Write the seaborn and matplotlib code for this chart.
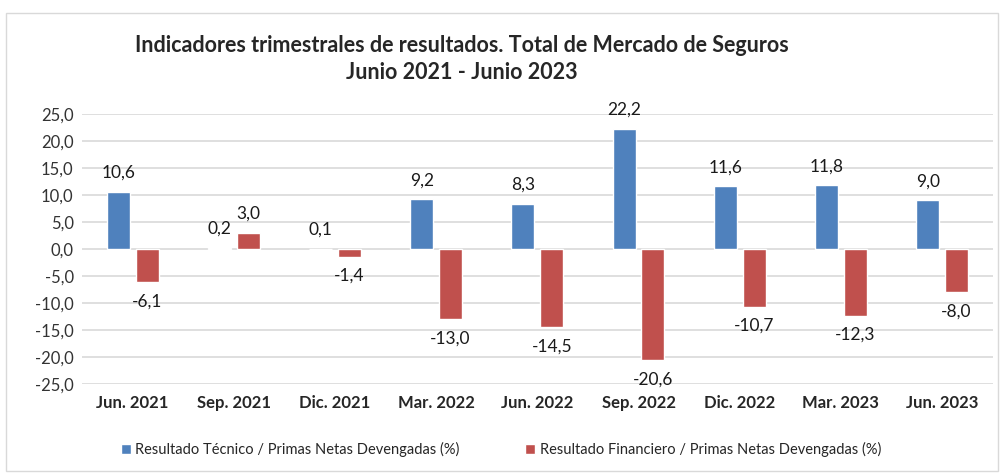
import pandas as pd
import matplotlib.pyplot as plt
import seaborn as sns
from matplotlib.patches import Rectangle

# datos
trimestres = ['Jun. 2021', 'Sep. 2021', 'Dic. 2021', 'Mar. 2022', 'Jun. 2022',
              'Sep. 2022', 'Dic. 2022', 'Mar. 2023', 'Jun. 2023']
tecnico = [10.6, 0.2, 0.1, 9.2, 8.3, 22.2, 11.6, 11.8, 9.0]
financiero = [-6.1, 3.0, -1.4, -13.0, -14.5, -20.6, -10.7, -12.3, -8.0]
serie_tec = 'Resultado Técnico / Primas Netas Devengadas (%)'
serie_fin = 'Resultado Financiero / Primas Netas Devengadas (%)'
y_ticks = [25, 20, 15, 10, 5, 0, -5, -10, -15, -20, -25]

df = pd.DataFrame({
    'trimestre': trimestres * 2,
    'valor': tecnico + financiero,
    'serie': [serie_tec] * len(trimestres) + [serie_fin] * len(trimestres),
})

sns.set_style('white')
plt.rcParams['font.family'] = ['Lato', 'DejaVu Sans']

fig = plt.figure(figsize=(10.04, 4.76), dpi=100)
ax = fig.add_axes([0.0817, 0.193, 0.907, 0.5675])

sns.barplot(data=df, x='trimestre', y='valor', hue='serie', order=trimestres,
            palette=['#4F81BD', '#C0504D'], saturation=1, width=0.57, gap=0.2,
            ax=ax, legend=True, zorder=3)

# etiquetas de datos
for cont in ax.containers:
    for bar in cont:
        v = bar.get_height()
        x = bar.get_x() + bar.get_width() / 2
        if v >= 0:
            ax.annotate(f'{v:.1f}'.replace('.', ','), (x, v), xytext=(0, 8),
                        textcoords='offset points', ha='center', va='bottom',
                        fontsize=12.5, color='#1a1a1a')
        else:
            ax.annotate(f'{v:.1f}'.replace('.', ','), (x, v), xytext=(0, -8),
                        textcoords='offset points', ha='center', va='top',
                        fontsize=12.5, color='#1a1a1a')

ax.set_ylim(-25, 25)
ax.set_yticks(y_ticks)
ax.set_yticklabels([f'{t:.1f}'.replace('.', ',') for t in y_ticks], fontsize=12, color='#333333')
ax.set_xlim(-0.5, len(trimestres) - 0.5)
ax.tick_params(axis='x', length=0, pad=8)
ax.tick_params(axis='y', length=0, pad=6)
for lab in ax.get_xticklabels():
    lab.set_fontweight('bold')
    lab.set_fontsize(12)
ax.set_xlabel('')
ax.set_ylabel('')
ax.grid(axis='y', color='#D9D9D9', linewidth=1.2, zorder=0)
sns.despine(ax=ax, left=True, bottom=True)

ax.legend(loc='lower center', bbox_to_anchor=(0.46, -0.32), ncol=2, frameon=False,
          fontsize=10.5, handlelength=0.7, handleheight=0.7, handletextpad=0.3,
          columnspacing=4.5)

fig.text(0.46, 0.905, 'Indicadores trimestrales de resultados. Total de Mercado de Seguros',
         ha='center', va='center', fontsize=15.5, fontweight='bold')
fig.text(0.46, 0.847, 'Junio 2021 - Junio 2023',
         ha='center', va='center', fontsize=15.5, fontweight='bold')

fig.patches.append(Rectangle((0.006, 0.01), 0.988, 0.962, transform=fig.transFigure,
                             fill=False, edgecolor='#D9D9D9', linewidth=1))

fig.savefig('out.png', dpi=100)
